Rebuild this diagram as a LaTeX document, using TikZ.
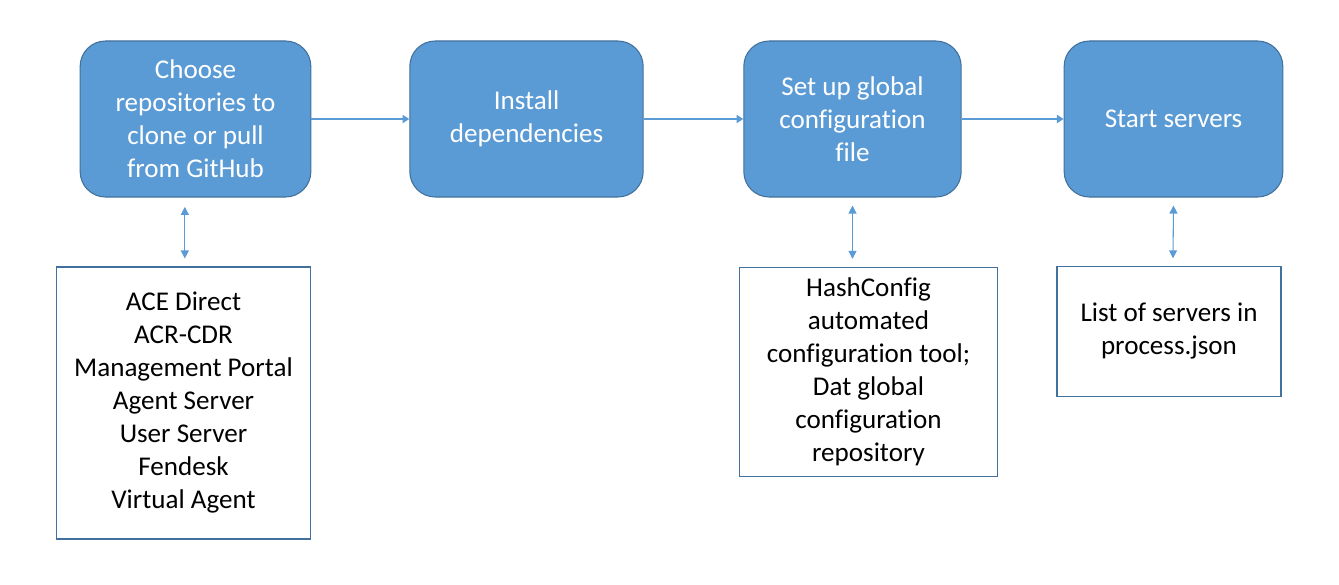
\documentclass[tikz,border=0pt]{standalone}
\usepackage{fontspec}
\setmainfont{Carlito}[Ligatures={NoCommon}]
\usetikzlibrary{arrows.meta}
\definecolor{boxblue}{HTML}{5B9BD5}
\definecolor{edgeblue}{HTML}{41719C}
\begin{document}
\begin{tikzpicture}[x=0.75pt,y=-0.75pt,
  stepbox/.style={rectangle,rounded corners=19pt,fill=boxblue,draw=edgeblue,line width=0.8pt,
    text=white,align=center,font=\fontsize{20.3}{24.75}\selectfont,inner sep=0pt},
  infobox/.style={rectangle,draw=edgeblue,line width=0.8pt,fill=white,
    align=center,font=\fontsize{20.3}{24.75}\selectfont,inner sep=0pt},
  flow/.style={draw=boxblue,line width=1.5pt,-{Triangle[length=5pt,width=6pt]}},
  link/.style={draw=boxblue,line width=0.8pt,{Triangle[length=6pt,width=6pt]}-{Triangle[length=6pt,width=6pt]}}]
  \useasboundingbox (0,0) rectangle (1339,585);

  %steps
  \node[stepbox,minimum width=173pt,minimum height=117pt] (choose) at (195.5,119){Choose\\repositories to\\clone or pull\\from GitHub};
  \node[stepbox,minimum width=175pt,minimum height=117pt] (install) at (526.5,119){Install\\dependencies};
  \node[stepbox,minimum width=163pt,minimum height=117pt] (setup) at (852.5,119){Set up global\\configuration\\file};
  \node[stepbox,minimum width=164pt,minimum height=117pt] (start) at (1173.5,119){Start servers};

  %details
  \node[infobox,minimum width=191pt,minimum height=204pt] (repos) at (183.5,403){ACE Direct\\ACR-CDR\\Management Portal\\Agent Server\\User Server\\Fendesk\\Virtual Agent};
  \node[infobox,minimum width=193pt,minimum height=157pt] (hashcfg) at (868.5,372){HashConfig\\automated\\configuration tool;\\Dat global\\configuration\\repository};
  \node[infobox,minimum width=168pt,minimum height=97pt] (srvlist) at (1169,331.5){List of servers in\\process.json};

  %arrows
  \draw[flow] (choose) -- (install);
  \draw[flow] (install) -- (setup);
  \draw[flow] (setup) -- (start);

  \draw[link] ([xshift=-8pt,yshift=-7pt]choose.south) -- ([xshift=1pt,yshift=6pt]repos.north);
  \draw[link] ([yshift=-6pt]setup.south) -- ([xshift=-12pt,yshift=6pt]hashcfg.north);
  \draw[link] ([yshift=-6pt]start.south) -- ([xshift=3pt,yshift=6pt]srvlist.north);
\end{tikzpicture}
\end{document}
